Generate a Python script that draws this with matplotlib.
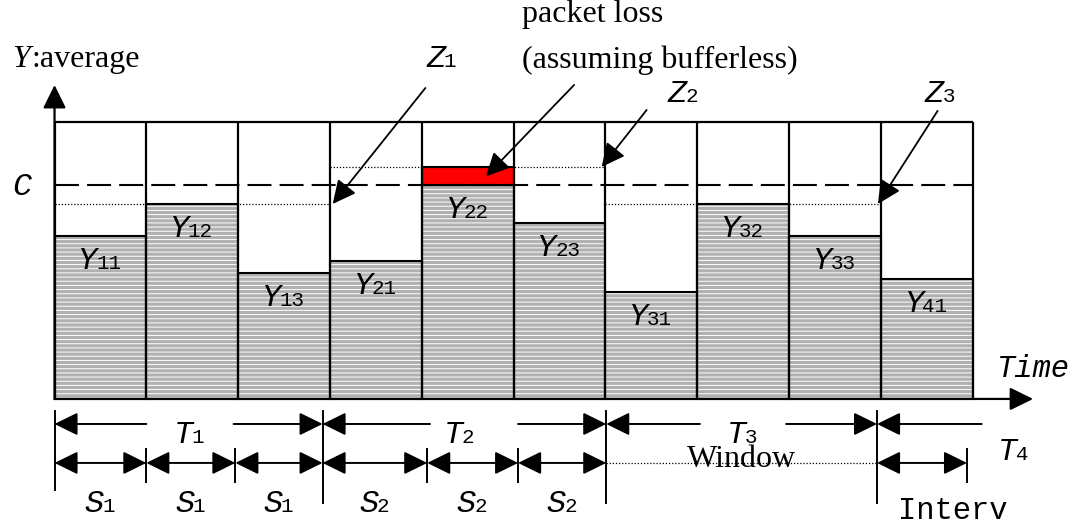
import matplotlib.pyplot as plt
import numpy as np

plt.rcParams['hatch.linewidth'] = 0.7

# average rate Y per interval, in units of the link capacity C
labels = ['11', '12', '13', '21', '22', '23', '31', '32', '33', '41']
rates = [0.762, 0.911, 0.589, 0.645, 1.084, 0.822, 0.500, 0.911, 0.762, 0.561]
capacity = 1.0
frame_top = 1.294
windows = [[0, 1, 2], [3, 4, 5], [6, 7, 8], [9]]
z_names = ['1', '2', '3']

# interval / window markers under the time axis (in interval units)
s_marks = [0, 1.0, 1.97, 2.92, 4.06, 5.05, 6.01, 8.96, 9.94]
s_names = ['1', '1', '1', '2', '2', '2']
t_gaps = [(1.0, 1.95), (4.09, 5.05), (7.03, 7.97)]
t_label_x = [1.476, 4.41, 7.50]

SERIF = 'Liberation Serif'
MONO = 'Liberation Mono'


def arrow(ax, p0, p1, style='-|>', lw=1.4):
    ax.annotate('', xy=p1, xytext=p0,
                arrowprops=dict(arrowstyle=style + ',head_length=0.65,head_width=0.32',
                                mutation_scale=22, lw=lw, color='k',
                                shrinkA=0, shrinkB=0))


def sym(ax, x, y, letter, sub='', size=23, subsize=15):
    # italic letter with a small upright index, centred on x, baseline at y
    w1 = 0.6 * size
    w2 = 0.6 * subsize * len(sub)
    x0 = -(w1 + w2) / 2
    ax.annotate(letter, (x, y), xytext=(x0, 0), textcoords='offset points',
                family=MONO, style='italic', fontsize=size, ha='left', va='baseline', zorder=4)
    if sub:
        ax.annotate(sub, (x, y), xytext=(x0 + w1 - 1, 0), textcoords='offset points',
                    family=MONO, fontsize=subsize, ha='left', va='baseline', zorder=4)


fig = plt.figure(figsize=(10.79, 5.28), dpi=100)
ax = fig.add_axes([0, 0, 1, 1])
ax.set_xlim(-0.594, 11.16)
ax.set_ylim(-0.603, 1.864)
ax.axis('off')

n = len(rates)
x = np.arange(n) + 0.5
r = np.array(rates)
clipped = np.minimum(r, capacity)

# hatched grey bars, then outlines
ax.bar(x, clipped, width=1, color='#b0b0b0', edgecolor='white', hatch='----', lw=0, zorder=1)
ax.bar(x, clipped, width=1, fill=False, edgecolor='k', lw=1.5, zorder=2)

# the part above C is lost
over = r - capacity
lost = over > 0
ax.bar(x[lost], over[lost], bottom=capacity, width=1, color='red', edgecolor='k', lw=1.5, zorder=2)

# frame
ax.vlines(np.arange(n + 1), 0, frame_top, color='k', lw=1.6, zorder=3)
ax.hlines(frame_top, 0, n, color='k', lw=1.6, zorder=3)

# capacity line
ax.plot([0, n], [capacity, capacity], color='k', lw=1.5, ls='--', dashes=(11.5, 3.9), zorder=3)
sym(ax, -0.354, 0.953, 'C')

# window maxima Z
z_tips = []
for w in windows:
    if len(w) < 3:
        continue
    zmax = max(rates[i] for i in w)
    ax.plot([w[0], w[-1] + 1], [zmax, zmax], color='k', lw=0.9, ls=(0, (1, 1.5)), zorder=3)
    z_tips.append((w[-1] + 1, zmax))

z_tail = [(4.04, 1.453), (6.45, 1.350), (9.62, 1.346)]
z_text = [(4.22, 1.551), (6.85, 1.388), (9.65, 1.388)]
z_shift = [0.03, -0.04, -0.03]
for (tx, tz), tail, tpos, sh, nm in zip(z_tips, z_tail, z_text, z_shift, z_names):
    arrow(ax, tail, (tx + sh, tz), lw=1.3)
    sym(ax, tpos[0], tpos[1], 'Z', nm)

# Y labels
for xi, yi, lab in zip(x, clipped, labels):
    sym(ax, xi, yi - 0.154, 'Y', lab)

# packet loss note
arrow(ax, (5.66, 1.467), (4.70, 1.04), lw=1.3)
ax.text(5.09, 1.794, 'packet loss', family=SERIF, fontsize=23, ha='left', va='center')
ax.text(5.09, 1.584, '(assuming bufferless)', family=SERIF, fontsize=23, ha='left', va='center')

# axes
arrow(ax, (0, 0), (0, 1.467), lw=1.6)
arrow(ax, (0, 0), (10.66, 0), lw=1.6)
ax.text(-0.463, 1.584, 'Y', family=SERIF, style='italic', fontsize=23, ha='left', va='center')
ax.text(-0.256, 1.584, ':average', family=SERIF, fontsize=23, ha='left', va='center')
ax.text(10.66, 0.140, 'Time', family=MONO, style='italic', fontsize=22, ha='center', va='center')

# window rows T
t_row = -0.117
ends = [s_marks[0], s_marks[3], s_marks[6], s_marks[7]]
for k in range(3):
    a, b = t_gaps[k]
    arrow(ax, (a, t_row), (ends[k], t_row))
    arrow(ax, (b, t_row), (ends[k + 1], t_row))
    sym(ax, t_label_x[k], -0.206, 'T', str(k + 1))
arrow(ax, (10.1, t_row), (ends[3], t_row))
sym(ax, 10.45, -0.285, 'T', '4')

# interval rows S
s_row = -0.299
for i in range(6):
    arrow(ax, (s_marks[i], s_row), (s_marks[i + 1], s_row), style='<|-|>')
    mid = (s_marks[i] + s_marks[i + 1]) / 2
    sym(ax, mid, -0.528, 'S', s_names[i])
ax.plot([s_marks[6], s_marks[7]], [s_row, s_row], color='k', lw=0.9, ls=(0, (1, 1.5)))
ax.text(7.48, -0.285, 'Window', family=SERIF, fontsize=23, ha='center', va='center')
arrow(ax, (s_marks[7], s_row), (s_marks[8], s_row), style='<|-|>')
ax.text(9.79, -0.523, 'Interv', family=MONO, fontsize=22, ha='center', va='center')

# tick marks
long_ticks = [s_marks[0], s_marks[3], s_marks[6], s_marks[7]]
long_ends = [-0.425, -0.486, -0.486, -0.486]
for xt, ye in zip(long_ticks, long_ends):
    ax.plot([xt, xt], [-0.056, ye], color='k', lw=1.4)
for xt in [s_marks[1], s_marks[2], s_marks[4], s_marks[5], s_marks[8]]:
    ax.plot([xt, xt], [-0.234, -0.388], color='k', lw=1.4)

fig.savefig('out.png', dpi=100)
